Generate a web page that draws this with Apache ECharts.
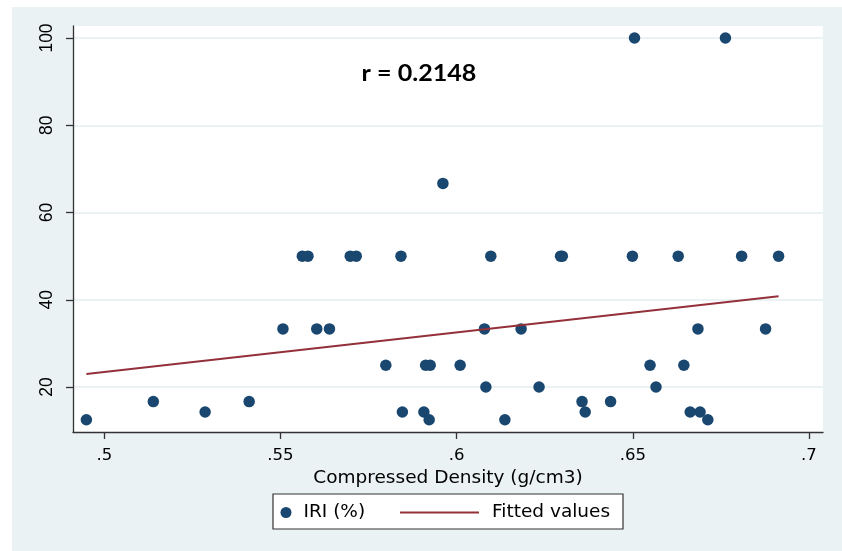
<!DOCTYPE html>
<html>
<head>
<meta charset="utf-8">
<script src="https://cdn.jsdelivr.net/npm/echarts@6/dist/echarts.min.js"></script>
<style>
  html, body { margin: 0; padding: 0; background: #fff; }
  #chart { width: 842px; height: 551px; }
</style>
</head>
<body>
<div id="chart"></div>
<script>
// Compressed density (g/cm3) of each sample and its IRI (%)
const density = [
  0.4949, 0.5139, 0.5286, 0.5411, 0.5507, 0.5562, 0.5578, 0.5603, 0.5639, 0.5698,
  0.5715, 0.5799, 0.5842, 0.5846, 0.5907, 0.5912, 0.5922, 0.5925, 0.5961, 0.6010,
  0.6079, 0.6083, 0.6097, 0.6137, 0.6183, 0.6234, 0.6295, 0.6300, 0.6356, 0.6365,
  0.6437, 0.6499, 0.6505, 0.6549, 0.6566, 0.6629, 0.6645, 0.6663, 0.6685, 0.6691,
  0.6713, 0.6763, 0.6809, 0.6877, 0.6914
];
const iri = [
  12.5, 16.67, 14.29, 16.67, 33.33, 50, 50, 33.33, 33.33, 50,
  50, 25, 50, 14.29, 14.29, 25, 12.5, 25, 66.67, 25,
  33.33, 20, 50, 12.5, 33.33, 20, 50, 50, 16.67, 14.29,
  16.67, 50, 100, 25, 20, 50, 25, 14.29, 33.33, 14.29,
  12.5, 100, 50, 33.33, 50
];

// Linear fit end points
const fitX = [0.4949, 0.6914];
const fitY = [22.98, 40.8];

// Axis ticks
const xTicks = [0.5, 0.55, 0.6, 0.65, 0.7];
const yTicks = [20, 40, 60, 80, 100];

const corrText = 'r = 0.2148';
const xTitle = 'Compressed Density (g/cm3)';
const scatterName = 'IRI (%)';
const fitName = 'Fitted values';

const NAVY = '#1a476f';
const MAROON = '#93303a';
const REGION = '#eaf2f3';
const AXIS = '#333333';

const chart = echarts.init(document.getElementById('chart'), null, { renderer: 'canvas' });

const dropZero = v => String(v).replace(/^0\./, '.');

chart.setOption({
  backgroundColor: '#ffffff',
  animation: false,
  grid: {
    left: 73, right: 19, top: 26, bottom: 119,
    show: true, backgroundColor: '#ffffff', borderWidth: 0,
    outerBoundsMode: 'none', containLabel: false
  },
  xAxis: {
    type: 'value',
    min: 0.4911, max: 0.704,
    name: xTitle,
    nameLocation: 'middle',
    nameGap: 32,
    nameTextStyle: { fontFamily: 'DejaVu Sans', fontSize: 18.5, color: '#000' },
    axisLine: { show: true, onZero: false, lineStyle: { color: AXIS, width: 1.3 } },
    axisTick: { show: true, inside: false, length: 7, customValues: xTicks, lineStyle: { color: AXIS, width: 1.3 } },
    axisLabel: {
      customValues: xTicks, margin: 15, formatter: dropZero,
      fontFamily: 'DejaVu Sans', fontSize: 16.5, color: '#000'
    },
    splitLine: { show: false }
  },
  yAxis: {
    type: 'value',
    min: 9.7, max: 102.75,
    axisLine: { show: true, onZero: false, lineStyle: { color: AXIS, width: 1.3 } },
    axisTick: { show: true, inside: false, length: 7, customValues: yTicks, lineStyle: { color: AXIS, width: 1.3 } },
    axisLabel: {
      customValues: yTicks, rotate: 90, margin: 17,
      fontFamily: 'Liberation Sans', fontSize: 17.5, color: '#000'
    },
    splitLine: { show: true, lineStyle: { color: REGION, width: 2 } }
  },
  legend: [
    {
      data: [{ name: scatterName, icon: 'circle' }],
      left: 280.5, top: 503, padding: 0,
      itemWidth: 11, itemHeight: 11,
      textStyle: { fontFamily: 'DejaVu Sans', fontSize: 18.5, color: '#000', padding: [0, 0, 0, 7] },
      selectedMode: false
    },
    {
      data: [{ name: fitName, icon: 'rect', itemStyle: { color: MAROON } }],
      left: 400, top: 503, padding: 0,
      itemWidth: 79, itemHeight: 2,
      textStyle: { fontFamily: 'DejaVu Sans', fontSize: 18.5, color: '#000', padding: [0, 0, 0, 8] },
      selectedMode: false
    }
  ],
  graphic: [
    {
      type: 'rect', z: -100, silent: true,
      shape: { x: 12, y: 7, width: 830, height: 544 },
      style: { fill: REGION }
    },
    {
      type: 'rect', z: 1, silent: true,
      shape: { x: 273, y: 494, width: 350, height: 35 },
      style: { fill: '#ffffff', stroke: '#333', lineWidth: 1.2 }
    },
    {
      type: 'text', z: 10, silent: true,
      x: 419, y: 74, scaleX: 1.14,
      style: {
        text: corrText, fill: '#000',
        font: 'bold 22px Lato',
        textAlign: 'center', textVerticalAlign: 'middle'
      }
    }
  ],
  series: [
    {
      name: scatterName,
      type: 'scatter',
      symbol: 'circle',
      symbolSize: 11.5,
      itemStyle: { color: NAVY, borderWidth: 0, opacity: 1 },
      data: density.map((d, i) => [d, iri[i]]),
      z: 2
    },
    {
      name: fitName,
      type: 'line',
      symbol: 'none',
      lineStyle: { color: MAROON, width: 2 },
      itemStyle: { color: MAROON },
      data: fitX.map((d, i) => [d, fitY[i]]),
      z: 3
    }
  ]
});
</script>
</body>
</html>
